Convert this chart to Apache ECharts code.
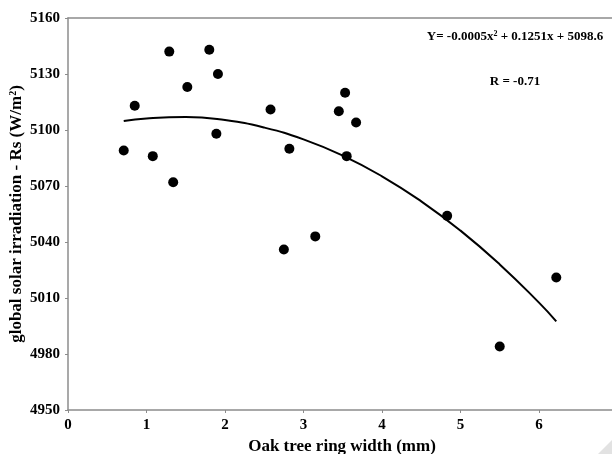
<!DOCTYPE html>
<html>
<head>
<meta charset="utf-8">
<script src="https://cdn.jsdelivr.net/npm/echarts@6/dist/echarts.min.js"></script>
<style>
  html, body { margin: 0; padding: 0; background: #fff; }
  #chart { width: 612px; height: 454px; }
</style>
</head>
<body>
<div id="chart"></div>
<script>
// observed points (ring width mm, Rs W/m2)
const ringWidth = [0.71, 0.85, 1.08, 1.29, 1.34, 1.52, 1.80, 1.89, 1.91, 2.58, 2.75, 2.82, 3.15, 3.45, 3.53, 3.55, 3.67, 4.83, 5.50, 6.22]
const irradiation = [5089, 5113, 5086, 5142, 5072, 5123, 5143, 5098, 5130, 5111, 5036, 5090, 5043, 5110, 5120, 5086, 5104, 5054, 4984, 5021]

// trend curve
const trendX = [0.71, 1.0, 1.5, 2.0, 2.5, 3.0, 3.5, 4.0, 4.5, 5.0, 5.5, 6.0, 6.22]
const trendY = [5104.8, 5106.2, 5107.0, 5105.3, 5101.3, 5095.0, 5086.3, 5075.2, 5061.8, 5046.1, 5028.0, 5007.5, 4997.5]

const xTitle = 'Oak tree ring width (mm)'
const yTitle = 'global solar irradiation - Rs (W/m{sup|2})'
const equationText = 'Y= -0.0005x{sup|2} + 0.1251x + 5098.6'
const rText = 'R = -0.71'

const FONT = '"Liberation Serif", "DejaVu Serif", serif'
const axisGray = '#8c8c8c'

const chart = echarts.init(document.getElementById('chart'), null, { renderer: 'canvas' })

// the figure is cropped: the x axis runs a little past the right edge
const xMax = 6.93

chart.setOption({
  backgroundColor: '#fff',
  animation: false,
  grid: { left: 68, right: 0, top: 18, bottom: 44 },
  xAxis: [
    {
      type: 'value',
      min: 0, max: xMax, interval: 1,
      axisLine: { lineStyle: { color: axisGray, width: 1.5 } },
      axisTick: { show: true, length: 3, lineStyle: { color: axisGray } },
      axisLabel: { fontFamily: FONT, fontWeight: 'bold', fontSize: 15, color: '#000', margin: 8, showMaxLabel: false },
      splitLine: { show: false },
    },
    {
      // top frame line only
      type: 'value', position: 'top',
      min: 0, max: xMax,
      axisLine: { show: true, lineStyle: { color: axisGray, width: 1.5 } },
      axisTick: { show: false },
      axisLabel: { show: false },
      splitLine: { show: false },
    },
  ],
  yAxis: {
    type: 'value',
    min: 4950, max: 5160, interval: 30,
    axisLine: { show: true, lineStyle: { color: axisGray, width: 1.5 } },
    axisTick: { show: true, length: 3, lineStyle: { color: axisGray } },
    axisLabel: { fontFamily: FONT, fontWeight: 'bold', fontSize: 15, color: '#000', margin: 8, formatter: v => String(v) },
    splitLine: { show: false },
  },
  graphic: [
    {
      type: 'text', x: 342, y: 447,
      style: { text: xTitle, align: 'center', verticalAlign: 'middle', font: 'bold 17px ' + FONT, fill: '#000' },
    },
    {
      type: 'text', x: 17, y: 214, rotation: Math.PI / 2,
      style: {
        text: yTitle, align: 'center', verticalAlign: 'middle', font: 'bold 17px ' + FONT, fill: '#000',
        rich: { sup: { font: 'bold 10px ' + FONT, verticalAlign: 'top', padding: [0, 0, 8, 0] } },
      },
    },
    {
      type: 'text', x: 515, y: 37,
      style: {
        text: equationText, align: 'center', verticalAlign: 'middle',
        font: 'bold 13px ' + FONT, fill: '#000',
        rich: { sup: { font: 'bold 8px ' + FONT, verticalAlign: 'top', padding: [0, 0, 7, 0] } },
      },
    },
    {
      type: 'text', x: 515, y: 82,
      style: { text: rText, align: 'center', verticalAlign: 'middle', font: 'bold 13px ' + FONT, fill: '#000' },
    },
    {
      type: 'polygon',
      shape: { points: [[612, 440], [612, 454], [598, 454]] },
      style: { fill: '#e2e2e2' },
    },
  ],
  series: [
    {
      type: 'line',
      data: trendX.map((x, i) => [x, trendY[i]]),
      smooth: true,
      showSymbol: false,
      lineStyle: { color: '#000', width: 2 },
      z: 2,
    },
    {
      type: 'scatter',
      data: ringWidth.map((x, i) => [x, irradiation[i]]),
      symbol: 'circle',
      symbolSize: 10,
      itemStyle: { color: '#000', opacity: 1 },
      z: 3,
    },
  ],
})
</script>
</body>
</html>
